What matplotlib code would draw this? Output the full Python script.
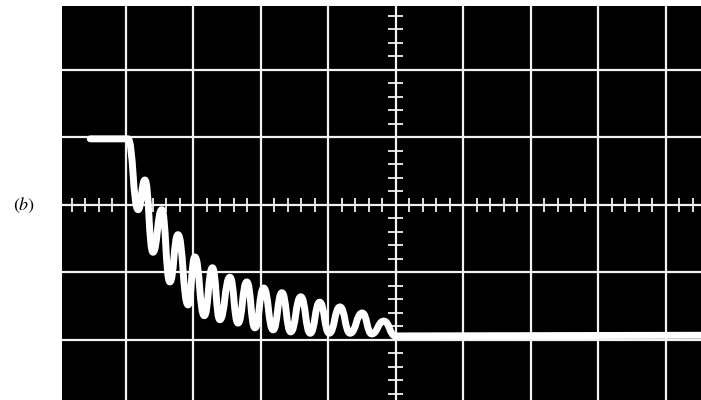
import numpy as np
import matplotlib.pyplot as plt
from matplotlib.path import Path
from matplotlib.patches import PathPatch

plt.rcParams['mathtext.fontset'] = 'stix'

# Trace extrema (in divisions, origin at screen centre)
trace_x = [-4.53, -3.97, -3.82, -3.72, -3.60, -3.47, -3.35, -3.23, -3.08, -2.98,
           -2.84, -2.72, -2.61, -2.46, -2.34, -2.21, -2.09, -1.96, -1.82, -1.69,
           -1.56, -1.41, -1.27, -1.13, -0.99, -0.83, -0.68, -0.50, -0.36, -0.18,
           -0.01, 4.52]
trace_y = [0.98, 0.98, -0.07, 0.37, -0.70, -0.07, -1.14, -0.44, -1.48, -0.77,
           -1.64, -0.93, -1.70, -1.07, -1.75, -1.14, -1.82, -1.23, -1.85, -1.30,
           -1.88, -1.36, -1.90, -1.44, -1.90, -1.51, -1.90, -1.60, -1.91, -1.72,
           -1.94, -1.93]

grid_x = [-4, -3, -2, -1, 0, 1, 2, 3, 4]
grid_y = [-2, -1, 0, 1, 2]
label = r'$(\mathit{b})$'

fig = plt.figure(figsize=(7.01, 4.0), dpi=100)
ax = fig.add_axes([62 / 701, 0, 639 / 701, 394 / 400])
ax.set_facecolor('black')
ax.set_xlim(-4.948, 4.519)
ax.set_ylim(-2.889, 2.948)

# Graticule
for gx in grid_x:
    ax.axvline(gx, color='#f2f2f2', lw=1.6, zorder=1)
for gy in grid_y:
    ax.axhline(gy, color='#f2f2f2', lw=1.6, zorder=1)

# Minor ticks on the centre lines
xt = np.arange(-4.8, 4.6, 0.2)
yt = np.arange(-2.8, 3.0, 0.2)
ax.vlines(xt, -0.1, 0.1, color='#f2f2f2', lw=1.3, zorder=1)
ax.hlines(yt, -0.12, 0.1, color='#f2f2f2', lw=1.3, zorder=1)

# Trace: smooth curve through the extrema (flat tangents at each turn)
verts = [(trace_x[0], trace_y[0]), (trace_x[1], trace_y[1])]
codes = [Path.MOVETO, Path.LINETO]
for i in range(1, len(trace_x) - 2):
    x0, y0 = trace_x[i], trace_y[i]
    x1, y1 = trace_x[i + 1], trace_y[i + 1]
    d = (x1 - x0) / 2
    verts += [(x0 + d, y0), (x1 - d, y1), (x1, y1)]
    codes += [Path.CURVE4] * 3
verts.append((trace_x[-1], trace_y[-1]))
codes.append(Path.LINETO)
ax.add_patch(PathPatch(Path(verts, codes), facecolor='none', edgecolor='white',
                       lw=5, capstyle='round', joinstyle='round', zorder=3))

ax.set_xticks([])
ax.set_yticks([])
for s in ax.spines.values():
    s.set_visible(False)

fig.text(24 / 701, 1 - 205 / 400, label, fontsize=13, ha='center', va='center')

fig.savefig('out.png', dpi=100, facecolor='white')
